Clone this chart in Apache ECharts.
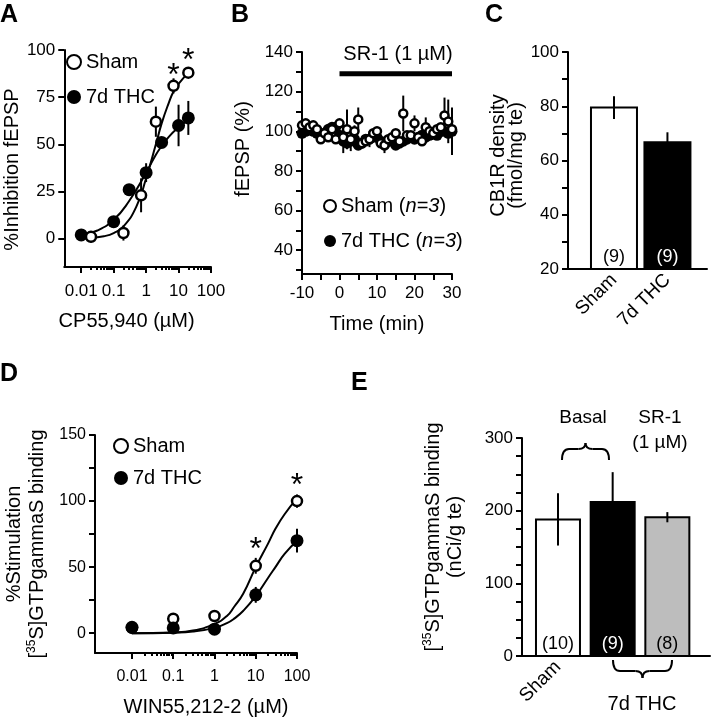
<!DOCTYPE html>
<html>
<head>
<meta charset="utf-8">
<script src="https://cdn.jsdelivr.net/npm/echarts@6/dist/echarts.min.js"></script>
<style>
html,body{margin:0;padding:0;background:#fff;}
#main{width:712px;height:720px;}
</style>
</head>
<body>
<div id="main"></div>
<script>
var FONT = '"Liberation Sans", Arial, sans-serif';

// ---------- panel A ----------
var logTicks = [0.01, 0.1, 1, 10, 100];
var logMinor = [0.02,0.03,0.04,0.05,0.06,0.07,0.08,0.09,0.2,0.3,0.4,0.5,0.6,0.7,0.8,0.9,2,3,4,5,6,7,8,9,20,30,40,50,60,70,80,90];
var aYTicks = [0, 25, 50, 75, 100];
var aShamDose = [0.02, 0.2, 0.7, 2, 7, 20];
var aShamVal = [1, 3, 23, 62, 81, 88];
var aShamErr = [3, 4, 9, 8, 4, 2];
var aThcDose = [0.01, 0.1, 0.3, 1, 3, 10, 20];
var aThcVal = [2, 9, 26, 35, 51, 60, 64];
var aThcErr = [2, 2, 3, 5, 2, 11, 9];
var aShamFitX = [0.02, 0.05, 0.1, 0.2, 0.5, 1, 2, 3, 5, 7, 10, 20];
var aShamFitY = [0.4, 1.3, 3, 6.5, 17, 32, 50, 61, 72, 78, 82, 88];
var aThcFitX = [0.01, 0.03, 0.1, 0.3, 1, 2, 3, 5, 10, 20];
var aThcFitY = [1.8, 4.2, 10, 20, 35, 44.5, 49, 54, 59, 63];
var aStarDose = [7, 20];
var aStarY = [86, 94];

// ---------- panel B ----------
var bTime = [-10,-9,-8,-7,-6,-5,-4,-3,-2,-1,0,1,2,3,4,5,6,7,8,9,10,11,12,13,14,15,16,17,18,19,20,21,22,23,24,25,26,27,28,29,30];
var bSham = [103,104,102,103,101,96,99,97,101,96,104,97,101,96,100,106,94,95,96,99,100,94,93,96,97,99,95,109,98,98,104,97,95,102,100,99,101,102,108,105,101];
var bShamErr = [2,2,2,2,2,2,2,2,3,2,2,3,10,2,3,6,2,2,4,2,2,2,2,2,2,2,2,9,2,2,4,2,2,5,2,2,2,2,9,11,8];
var bThc = [99,100,101,100,99,99,98,101,102,102,98,95,94,95,96,93,94,96,96,97,97,95,93,95,95,93,94,95,96,97,96,97,98,97,98,99,98,100,100,99,100];
var bThcErr = [2,2,2,2,2,2,2,2,2,2,2,6,2,5,2,2,2,2,2,2,2,2,4,2,2,2,2,2,2,2,2,2,2,2,2,2,2,2,2,2,12];
var bYTicks = [30,40,50,60,70,80,90,100,110,120,130,140];
var bYLabels = [40, 60, 80, 100, 120, 140];
var bXTicks = [-10,-5,0,5,10,15,20,25,30];
var bXLabels = [-10, 0, 10, 20, 30];
var bDrug = [[0, 129], [30, 129]];

// ---------- panel C ----------
var cCats = ['Sham', '7d THC'];
var cVal = [79.5, 66.7];
var cErr = [4.2, 3.7];
var cN = ['(9)', '(9)'];
var cFill = ['#ffffff', '#000000'];
var cYTicks = [20,30,40,50,60,70,80,90,100];
var cYLabels = [20, 40, 60, 80, 100];

// ---------- panel D ----------
var dDose = [0.01, 0.1, 1, 10, 100];
var dSham = [4, 11, 13, 51, 100];
var dShamErr = [1, 3, 2, 6, 5];
var dThc = [4.5, 4, 3, 29, 70];
var dThcErr = [1, 1, 1, 6, 9];
var dFitX = [0.01, 0.1, 0.3, 1, 2, 3, 5, 10, 20, 30, 50, 100];
var dShamFitY = [0, 0.6, 2, 7, 13, 20, 30, 50, 68, 79, 90, 102];
var dThcFitY = [0, 0.4, 1.2, 4, 7.6, 11, 17, 28, 42, 50, 60, 70];
var dStarDose = [10, 100];
var dStarY = [63, 111];
var dYTicks = [0, 25, 50, 75, 100, 125, 150];
var dYLabels = [0, 50, 100, 150];

// ---------- panel E ----------
var eCats = ['Sham', '7d THC', 'SR-1'];
var eVal = [188, 212, 191];
var eErr = [36, 41, 7];
var eN = ['(10)', '(9)', '(8)'];
var eFill = ['#ffffff', '#000000', '#bdbdbd'];
var eYTicks = [0,25,50,75,100,125,150,175,200,225,250,275,300];
var eYLabels = [0, 100, 200, 300];

function pairs(xs, ys) { return xs.map(function (x, i) { return [x, ys[i]]; }); }
function triples(xs, ys, es) { return xs.map(function (x, i) { return [x, ys[i], es[i]]; }); }

function errRender(params, api) {
    var x = api.value(0), y = api.value(1), e = api.value(2);
    var p1 = api.coord([x, y - e]), p2 = api.coord([x, y + e]);
    return {type: 'line', shape: {x1: p1[0], y1: p1[1], x2: p2[0], y2: p2[1]},
        style: {stroke: '#000', lineWidth: 2}};
}

function barRender(fills, labels, yMin, w) {
    return function (params, api) {
        var i = params.dataIndex;
        var x = api.value(0), y = api.value(1), e = api.value(2);
        var top = api.coord([x, y]), base = api.coord([x, yMin]);
        var up = api.coord([x, y + e]), dn = api.coord([x, y - e]);
        return {type: 'group', children: [
            {type: 'rect', shape: {x: top[0] - w / 2, y: top[1], width: w, height: base[1] - top[1]},
                style: {fill: fills[i], stroke: '#000', lineWidth: 2}},
            {type: 'line', shape: {x1: up[0], y1: up[1], x2: dn[0], y2: dn[1]},
                style: {stroke: '#000', lineWidth: 2}},
            {type: 'text', x: top[0], y: base[1] - 3,
                style: {text: labels[i], fill: fills[i] === '#000000' ? '#fff' : '#000',
                    fontSize: 18, fontFamily: FONT, align: 'center', verticalAlign: 'bottom',
                    textAlign: 'center', textVerticalAlign: 'bottom'}}
        ]};
    };
}

var lineBlack = {color: '#000', width: 2};

function yAx(grid, min, max, ticks, labels, name, gap, pad, fs, lh) {
    return {
        gridIndex: grid, type: 'value', min: min, max: max,
        axisLine: {show: true, onZero: false, lineStyle: lineBlack},
        axisTick: {show: true, customValues: ticks, length: 6, lineStyle: lineBlack},
        axisLabel: {show: true, customValues: labels, margin: 9, fontSize: fs, fontFamily: FONT, color: '#000'},
        splitLine: {show: false},
        name: name, nameLocation: 'middle', nameGap: gap,
        nameTextStyle: {fontSize: 20, fontFamily: FONT, color: '#000', padding: pad, lineHeight: lh,
            rich: {sup: {fontSize: 12, fontFamily: FONT, color: '#000', verticalAlign: 'top', lineHeight: 12}}}
    };
}

function logX(grid, min, name, gap, pad, fs, margin) {
    return {
        gridIndex: grid, type: 'log', logBase: 10, min: min, max: 100, position: 'bottom',
        axisLine: {show: true, onZero: false, lineStyle: lineBlack},
        axisTick: {show: true, customValues: logTicks, length: 6, lineStyle: lineBlack},
        axisLabel: {show: true, customValues: logTicks, margin: margin, fontSize: fs, fontFamily: FONT, color: '#000',
            formatter: function (v) { return String(v); }},
        splitLine: {show: false}, minorTick: {show: false},
        name: name, nameLocation: 'middle', nameGap: gap,
        nameTextStyle: {fontSize: 20, fontFamily: FONT, color: '#000', padding: pad}
    };
}

function logMinorX(grid, min) {
    return {
        gridIndex: grid, type: 'log', logBase: 10, min: min, max: 100, position: 'bottom',
        axisLine: {show: false, onZero: false},
        axisTick: {show: true, customValues: logMinor, length: 3, lineStyle: lineBlack},
        axisLabel: {show: false}, splitLine: {show: false}
    };
}

function brace(x1, x2, yEnd, yBar, yTip) {
    var r = 7, mid = (x1 + x2) / 2;
    var st = {stroke: '#000', lineWidth: 2, fill: null};
    return [
        {type: 'bezierCurve', shape: {x1: x1, y1: yEnd, cpx1: x1, cpy1: yBar, x2: x1 + r, y2: yBar}, style: st},
        {type: 'line', shape: {x1: x1 + r, y1: yBar, x2: mid - r, y2: yBar}, style: st},
        {type: 'bezierCurve', shape: {x1: mid - r, y1: yBar, cpx1: mid, cpy1: yBar, x2: mid, y2: yTip}, style: st},
        {type: 'bezierCurve', shape: {x1: mid, y1: yTip, cpx1: mid, cpy1: yBar, x2: mid + r, y2: yBar}, style: st},
        {type: 'line', shape: {x1: mid + r, y1: yBar, x2: x2 - r, y2: yBar}, style: st},
        {type: 'bezierCurve', shape: {x1: x2 - r, y1: yBar, cpx1: x2, cpy1: yBar, x2: x2, y2: yEnd}, style: st}
    ];
}

function txt(x, y, s, fs) {
    return {type: 'text', x: x, y: y, style: {text: s, fontSize: fs, fontFamily: FONT, fill: '#000',
        align: 'center', verticalAlign: 'middle', textAlign: 'center', textVerticalAlign: 'middle'}};
}

function letter(s, left, top) {
    return {text: s, left: left, top: top, padding: 0,
        textStyle: {fontSize: 25, fontWeight: 'bold', fontFamily: FONT, color: '#000'}};
}

var openSym = {color: '#fff', borderColor: '#000', borderWidth: 2.5, opacity: 1};
var fillSym = {color: '#000', opacity: 1};
var starLabel = {show: true, formatter: '*', position: 'inside', fontSize: 32, fontFamily: FONT, color: '#000'};
var starItem = {color: 'rgba(0,0,0,0)', opacity: 1};
var legendText = {fontSize: 20, fontFamily: FONT, color: '#000'};

var myChart = echarts.init(document.getElementById('main'));
var option = {
    backgroundColor: '#fff',
    animation: false,
    title: [
        letter('A', 0, 3),
        letter('B', 231, 3),
        letter('C', 485, 3),
        letter('D', 0, 362),
        letter('E', 351, 371)
    ],
    legend: [
        {data: ['Sham', '7d THC'], orient: 'vertical', left: 61, top: 47, itemGap: 15, itemWidth: 14, itemHeight: 14,
            selectedMode: false, textStyle: legendText},
        {data: ['Sham (n=3)', '7d THC (n=3)'], orient: 'vertical', left: 318, top: 191, itemGap: 15, itemWidth: 12, itemHeight: 12,
            selectedMode: false,
            formatter: function (name) { return name.replace('(n=3)', '({it|n=3})'); },
            textStyle: {fontSize: 20, fontFamily: FONT, color: '#000',
                rich: {it: {fontStyle: 'italic', fontSize: 20, fontFamily: FONT, color: '#000'}}}},
        {data: ['Sham', '7d THC'], orient: 'vertical', left: 108, top: 431, itemGap: 12, itemWidth: 14, itemHeight: 14,
            selectedMode: false, textStyle: legendText}
    ],
    grid: [
        {left: 55, top: 50, width: 156, height: 217},
        {left: 302, top: 52, width: 150, height: 222},
        {left: 568, top: 52, width: 139, height: 217},
        {left: 95, top: 435, width: 202, height: 218},
        {left: 522, top: 438, width: 188, height: 218}
    ],
    xAxis: [
        logX(0, 0.003, 'CP55,940 (µM)', 44, [0, 22, 0, 0], 17, 16),
        logMinorX(0, 0.003),
        {
            gridIndex: 1, type: 'value', min: -10, max: 30,
            axisLine: {show: true, onZero: false, lineStyle: lineBlack},
            axisTick: {show: true, customValues: bXTicks, length: 6, lineStyle: lineBlack},
            axisLabel: {show: true, customValues: bXLabels, margin: 11, fontSize: 17, fontFamily: FONT, color: '#000'},
            splitLine: {show: false},
            name: 'Time (min)', nameLocation: 'middle', nameGap: 40,
            nameTextStyle: {fontSize: 20, fontFamily: FONT, color: '#000'}
        },
        {
            gridIndex: 2, type: 'value', min: 0.14, max: 2.74,
            axisLine: {show: true, onZero: false, lineStyle: lineBlack},
            axisTick: {show: false},
            axisLabel: {show: true, customValues: [1, 2], rotate: 45, margin: 8, fontSize: 19, fontFamily: FONT, color: '#000',
                formatter: function (v) { return cCats[Math.round(v) - 1]; }},
            splitLine: {show: false}
        },
        logX(3, 0.00127, 'WIN55,212-2 (µM)', 44, [0, 0, 0, 20], 16, 16),
        logMinorX(3, 0.00127),
        {
            gridIndex: 4, type: 'value', min: 0.342, max: 3.78,
            axisLine: {show: true, onZero: false, lineStyle: lineBlack},
            axisTick: {show: false},
            axisLabel: {show: true, customValues: [1], rotate: 45, margin: 8, fontSize: 19, fontFamily: FONT, color: '#000',
                formatter: function (v) { return eCats[Math.round(v) - 1]; }},
            splitLine: {show: false}
        }
    ],
    yAxis: [
        yAx(0, -15, 100, aYTicks, aYTicks, '%Inhibition fEPSP', 34, [0, 22, 0, 0], 17, 22),
        yAx(1, 28, 140, bYTicks, bYLabels, 'fEPSP (%)', 48, [0, 0, 0, 28], 17, 22),
        yAx(2, 20, 100, cYTicks, cYLabels, 'CB1R density\n(fmol/mg te)', 35, [0, 0, 0, 10], 17, 18),
        yAx(3, -15, 150, dYTicks, dYLabels, '%Stimulation\n[{sup|35}S]GTPgammaS binding', 46, 0, 16, 23),
        yAx(4, 0, 300, eYTicks, eYLabels, '[{sup|35}S]GTPgammaS binding\n(nCi/g te)', 56, [0, 0, 0, 20], 17, 22)
    ],
    series: [
        // A
        {type: 'custom', xAxisIndex: 0, yAxisIndex: 0, renderItem: errRender, data: triples(aShamDose, aShamVal, aShamErr), z: 2},
        {type: 'custom', xAxisIndex: 0, yAxisIndex: 0, renderItem: errRender, data: triples(aThcDose, aThcVal, aThcErr), z: 2},
        {type: 'line', xAxisIndex: 0, yAxisIndex: 0, data: pairs(aShamFitX, aShamFitY), smooth: true, showSymbol: false,
            lineStyle: lineBlack, z: 3, silent: true},
        {type: 'line', xAxisIndex: 0, yAxisIndex: 0, data: pairs(aThcFitX, aThcFitY), smooth: true, showSymbol: false,
            lineStyle: lineBlack, z: 3, silent: true},
        {name: '7d THC', type: 'scatter', xAxisIndex: 0, yAxisIndex: 0, symbolSize: 13, itemStyle: fillSym,
            data: pairs(aThcDose, aThcVal), z: 4},
        {name: 'Sham', type: 'scatter', xAxisIndex: 0, yAxisIndex: 0, symbolSize: 10, itemStyle: openSym,
            data: pairs(aShamDose, aShamVal), z: 5},
        {type: 'scatter', xAxisIndex: 0, yAxisIndex: 0, symbolSize: 1, itemStyle: starItem,
            label: starLabel, data: pairs(aStarDose, aStarY), z: 6},
        // B
        {type: 'custom', xAxisIndex: 2, yAxisIndex: 1, renderItem: errRender, data: triples(bTime, bThc, bThcErr), z: 2},
        {type: 'custom', xAxisIndex: 2, yAxisIndex: 1, renderItem: errRender, data: triples(bTime, bSham, bShamErr), z: 2},
        {name: '7d THC (n=3)', type: 'scatter', xAxisIndex: 2, yAxisIndex: 1, symbolSize: 11, itemStyle: fillSym,
            data: pairs(bTime, bThc), z: 4},
        {name: 'Sham (n=3)', type: 'scatter', xAxisIndex: 2, yAxisIndex: 1, symbolSize: 8, itemStyle: openSym,
            data: pairs(bTime, bSham), z: 5},
        {type: 'line', xAxisIndex: 2, yAxisIndex: 1, data: bDrug, showSymbol: false, lineStyle: {color: '#000', width: 5}, silent: true},
        // C
        {type: 'custom', xAxisIndex: 3, yAxisIndex: 2, renderItem: barRender(cFill, cN, 20, 46),
            data: triples([1, 2], cVal, cErr)},
        // D
        {type: 'custom', xAxisIndex: 4, yAxisIndex: 3, renderItem: errRender, data: triples(dDose, dSham, dShamErr), z: 2},
        {type: 'custom', xAxisIndex: 4, yAxisIndex: 3, renderItem: errRender, data: triples(dDose, dThc, dThcErr), z: 2},
        {type: 'line', xAxisIndex: 4, yAxisIndex: 3, data: pairs(dFitX, dShamFitY), smooth: true, showSymbol: false,
            lineStyle: lineBlack, z: 3, silent: true},
        {type: 'line', xAxisIndex: 4, yAxisIndex: 3, data: pairs(dFitX, dThcFitY), smooth: true, showSymbol: false,
            lineStyle: lineBlack, z: 3, silent: true},
        {name: 'Sham', type: 'scatter', xAxisIndex: 4, yAxisIndex: 3, symbolSize: 10, itemStyle: openSym,
            data: pairs(dDose, dSham), z: 4},
        {name: '7d THC', type: 'scatter', xAxisIndex: 4, yAxisIndex: 3, symbolSize: 13, itemStyle: fillSym,
            data: pairs(dDose, dThc), z: 5},
        {type: 'scatter', xAxisIndex: 4, yAxisIndex: 3, symbolSize: 1, itemStyle: starItem,
            label: starLabel, data: pairs(dStarDose, dStarY), z: 6},
        // E
        {type: 'custom', xAxisIndex: 6, yAxisIndex: 4, renderItem: barRender(eFill, eN, 0, 44),
            data: triples([1, 2, 3], eVal, eErr)}
    ],
    graphic: [
        txt(398, 54, 'SR-1 (1 µM)', 20),
        txt(583, 418, 'Basal', 19),
        txt(660, 418, 'SR-1', 19),
        txt(660, 443, '(1 µM)', 19),
        txt(642, 704, '7d THC', 20)
    ].concat(brace(562, 609, 460, 449, 443)).concat(brace(613, 672, 660, 671, 678))
};
myChart.setOption(option);
window.onresize = myChart.resize;
</script>
</body>
</html>
